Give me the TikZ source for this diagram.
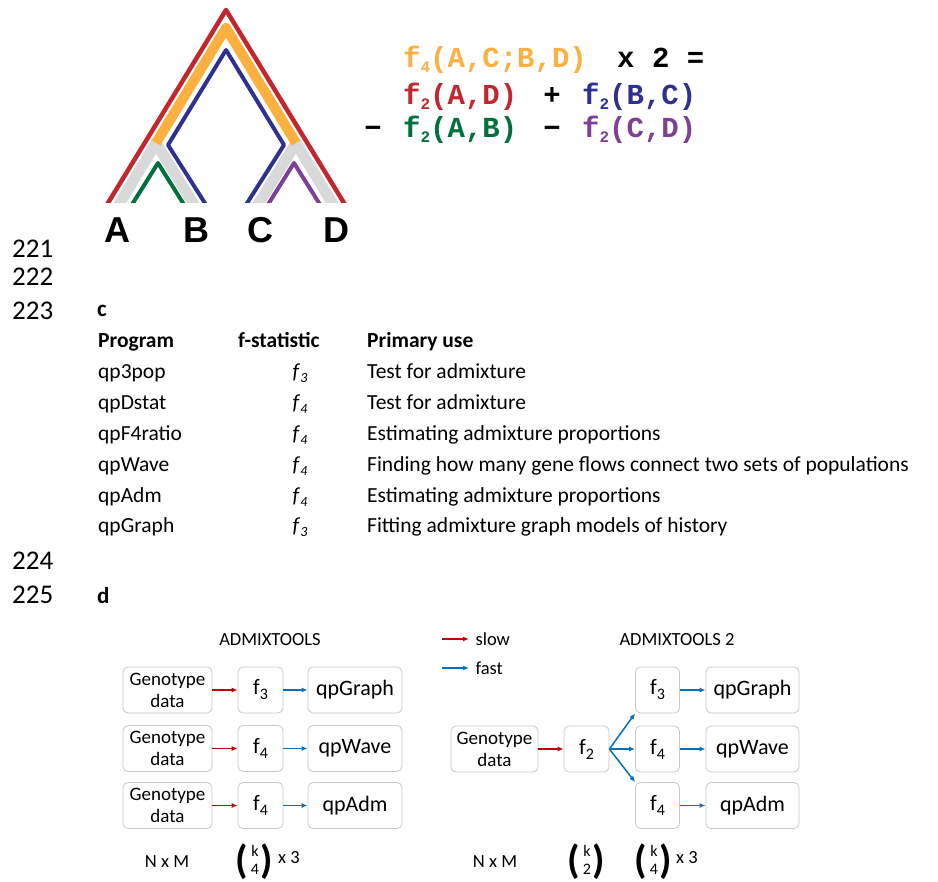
\documentclass[tikz,border=0pt]{standalone}
\usepackage{fontspec}
\setmainfont{Carlito}
\newfontfamily\formulafont{Liberation Mono}
\newfontfamily\treefont{Liberation Sans}
\usetikzlibrary{arrows.meta}

\definecolor{treered}{HTML}{C1272D}
\definecolor{treeorange}{HTML}{FBB040}
\definecolor{treeblue}{HTML}{2E3192}
\definecolor{treegreen}{HTML}{00703C}
\definecolor{treepurple}{HTML}{7F3F98}
\definecolor{treegray}{HTML}{D9D9D9}
\definecolor{slowred}{HTML}{C00000}
\definecolor{fastblue}{HTML}{0070C0}
\definecolor{boxgray}{HTML}{C8C8C8}

\newcommand{\fsub}[1]{\raisebox{-5pt}{\fontsize{16}{16}\selectfont #1}}
\newcommand{\isub}[1]{\textit{f}\raisebox{-4pt}{\fontsize{14}{14}\selectfont\itshape #1}}
\newcommand{\bsub}[1]{f\raisebox{-5pt}{\fontsize{16}{16}\selectfont #1}}
\newcommand{\kbin}[1]{{\fontsize{40}{40}\selectfont\bfseries(}\hspace{3pt}\raisebox{7pt}{\fontsize{16}{18}\selectfont\begin{tabular}{@{}c@{}}k\\#1\end{tabular}}\hspace{1pt}{\fontsize{40}{40}\selectfont\bfseries)}}

\begin{document}
\begin{tikzpicture}[x=1pt,y=-1pt,
  branch/.style={line width=#1, line join=round},
  mono/.style={anchor=base west, font=\formulafont\bfseries\fontsize{29}{29}\selectfont},
  lineno/.style={anchor=base west, font=\fontsize{27}{27}\selectfont},
  cell/.style={anchor=base west, font=\fontsize{21.5}{21.5}\selectfont},
  panel/.style={anchor=base west, font=\bfseries\fontsize{23}{23}\selectfont},
  fbox/.style={draw=boxgray, line width=0.8pt, rounded corners=5pt, minimum height=46pt,
    align=center, inner sep=0pt, font=\fontsize{22}{22}\selectfont},
  slow/.style={draw=slowred, line width=1.5pt, -{Latex[length=6pt,width=5pt]}},
  fast/.style={draw=fastblue, line width=1.5pt, -{Latex[length=6pt,width=5pt]}},
  small/.style={font=\fontsize{18.5}{22}\selectfont}]
\fill[white] (0,0) rectangle (938,882);
\useasboundingbox (0,0) rectangle (938,882);

% tree of four populations
\begin{scope}
\clip (0,0) rectangle (360,203);
\draw[treegray,branch=11pt] (115.7,210) -- (156,143) -- (197.3,210);
\draw[treegray,branch=11pt] (254.7,210) -- (296,143) -- (336.3,210);
\draw[treeorange,branch=10pt] (156,143) -- (226,28) -- (296,143);
\draw[treered,branch=4.5pt] (103.7,210) -- (226,10) -- (348.3,210);
\draw[treeblue,branch=4pt] (209.3,210) -- (168,145) -- (226,50) -- (284,145) -- (242.7,210);
\draw[treegreen,branch=4pt] (128.6,210) -- (158,163) -- (187.4,210);
\draw[treepurple,branch=4pt] (264.6,210) -- (294,163) -- (323.4,210);
\end{scope}
\node[font=\treefont\bfseries\fontsize{36}{36}\selectfont] (popA) at (117,230) {A};
\node[font=\treefont\bfseries\fontsize{36}{36}\selectfont] (popB) at (196,230) {B};
\node[font=\treefont\bfseries\fontsize{36}{36}\selectfont] (popC) at (260,230) {C};
\node[font=\treefont\bfseries\fontsize{36}{36}\selectfont] (popD) at (336,230) {D};

% f4 = f2 sums
\node[mono,treeorange,inner sep=0pt] (fACBD) at (403,68) {f\fsub{4}(A,C;B,D)};
\node[mono,inner sep=0pt] (times) at (617,68) {x 2 =};
\node[mono,treered,inner sep=0pt] (fAD) at (403,105) {f\fsub{2}(A,D)};
\node[mono,inner sep=0pt,anchor=base] (plus) at (552,105) {+};
\node[mono,treeblue,inner sep=0pt] (fBC) at (582,105) {f\fsub{2}(B,C)};
\node[mono,inner sep=0pt,anchor=base] (minA) at (373,138) {−};
\node[mono,treegreen,inner sep=0pt] (fAB) at (403,138) {f\fsub{2}(A,B)};
\node[mono,inner sep=0pt,anchor=base] (minB) at (552,138) {−};
\node[mono,treepurple,inner sep=0pt] (fCD) at (582,138) {f\fsub{2}(C,D)};

% line numbers
\node[lineno,inner sep=0pt] (ln1) at (12,258) {221};
\node[lineno,inner sep=0pt] (ln2) at (12,286) {222};
\node[lineno,inner sep=0pt] (ln3) at (12,320) {223};
\node[lineno,inner sep=0pt] (ln4) at (12,569) {224};
\node[lineno,inner sep=0pt] (ln5) at (12,603) {225};

% table of programs
\node[panel,inner sep=0pt] (panelc) at (97,317) {c};
\node[cell,inner sep=0pt,font=\bfseries\fontsize{21.5}{21.5}\selectfont] (hprog) at (98,348) {Program};
\node[cell,inner sep=0pt,font=\bfseries\fontsize{21.5}{21.5}\selectfont] (hstat) at (238,348) {f-statistic};
\node[cell,inner sep=0pt,font=\bfseries\fontsize{21.5}{21.5}\selectfont] (huse) at (367,348) {Primary use};
\foreach \prog/\st/\use [count=\i] in {qp3pop/3/Test for admixture,
    qpDstat/4/Test for admixture,
    qpF4ratio/4/Estimating admixture proportions,
    qpWave/4/Finding how many gene flows connect two sets of populations,
    qpAdm/4/Estimating admixture proportions,
    qpGraph/3/Fitting admixture graph models of history}{
  \pgfmathsetmacro{\yy}{379+30.8*(\i-1)}
  \node[cell,inner sep=0pt] (prog\i) at (98,\yy) {\prog};
  \node[cell,inner sep=0pt,anchor=base] (stat\i) at (300,\yy) {\isub{\st}};
  \node[cell,inner sep=0pt] (use\i) at (367,\yy) {\use};
}

% workflow comparison
\node[panel,inner sep=0pt] (paneld) at (97,603) {d};
\node[small] (oldtools) at (270,640) {ADMIXTOOLS};
\node[small] (newtools) at (677,640) {ADMIXTOOLS 2};

\node[fbox,minimum width=89pt,font=\fontsize{19}{22}\selectfont] (gL1) at (167.5,690) {Genotype\\data};
\node[fbox,minimum width=89pt,font=\fontsize{19}{22}\selectfont] (gL2) at (167.5,748.5) {Genotype\\data};
\node[fbox,minimum width=89pt,font=\fontsize{19}{22}\selectfont] (gL3) at (167.5,805.5) {Genotype\\data};
\node[fbox,minimum width=45pt] (fL1) at (260.5,690) {\bsub{3}};
\node[fbox,minimum width=45pt] (fL2) at (260.5,748.5) {\bsub{4}};
\node[fbox,minimum width=45pt] (fL3) at (260.5,805.5) {\bsub{4}};
\node[fbox,minimum width=94pt] (qL1) at (355,690) {qpGraph};
\node[fbox,minimum width=94pt] (qL2) at (355,748.5) {qpWave};
\node[fbox,minimum width=94pt] (qL3) at (355,805.5) {qpAdm};
\foreach \i in {1,2,3}{
  \draw[slow] (gL\i) -- (fL\i);
  \draw[fast] (fL\i) -- (qL\i);
}

\coordinate (slowA) at (442,639);
\coordinate (slowB) at (469,639);
\coordinate (fastA) at (442,668);
\coordinate (fastB) at (469,668);
\draw[slow] (slowA) -- (slowB);
\draw[fast] (fastA) -- (fastB);
\node[small,anchor=west] (slowtxt) at (472,639) {slow};
\node[small,anchor=west] (fasttxt) at (472,668) {fast};

\node[fbox,minimum width=87pt,font=\fontsize{19}{22}\selectfont] (gR) at (494.5,749) {Genotype\\data};
\node[fbox,minimum width=45pt] (fR) at (586.5,749) {\bsub{2}};
\node[fbox,minimum width=44pt] (fR1) at (657.5,690) {\bsub{3}};
\node[fbox,minimum width=44pt] (fR2) at (657.5,749) {\bsub{4}};
\node[fbox,minimum width=44pt] (fR3) at (657.5,805.5) {\bsub{4}};
\node[fbox,minimum width=93pt] (qR1) at (752.5,690) {qpGraph};
\node[fbox,minimum width=93pt] (qR2) at (752.5,749) {qpWave};
\node[fbox,minimum width=93pt] (qR3) at (752.5,805.5) {qpAdm};
\draw[slow] (gR) -- (fR);
\draw[fast] (fR.east) -- (fR1.south west);
\draw[fast] (fR.east) -- (fR2.west);
\draw[fast] (fR.east) -- (fR3.north west);
\foreach \i in {1,2,3}{
  \draw[fast] (fR\i) -- (qR\i);
}

% costs
\node[small] (costL) at (167,862) {N x M};
\node[inner sep=0pt] (binL) at (254,862) {\kbin{4}};
\node[small,anchor=west,inner sep=0pt] (timesL) at (278,858) {x 3};
\node[small] (costR) at (495,862) {N x M};
\node[inner sep=0pt] (binR1) at (586,862) {\kbin{2}};
\node[inner sep=0pt] (binR2) at (653,862) {\kbin{4}};
\node[small,anchor=west,inner sep=0pt] (timesR) at (676,858) {x 3};
\end{tikzpicture}
\end{document}
